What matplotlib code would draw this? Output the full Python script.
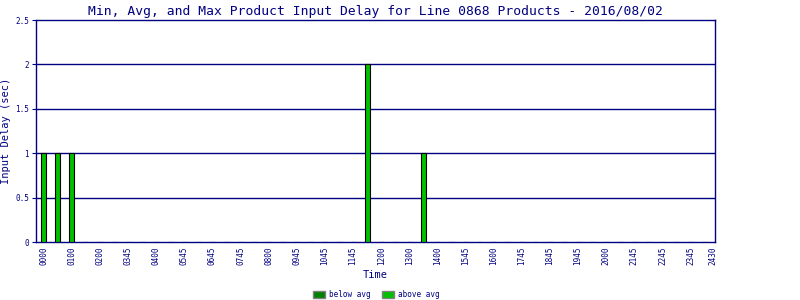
import matplotlib
matplotlib.use("Agg")
import matplotlib.pyplot as plt
from matplotlib.patches import Patch

# half-hour slots, only some carry a label
slots = list(range(48))
delay = [0.0] * 48
delay[0] = 1
delay[1] = 1
delay[2] = 1
delay[23] = 2
delay[27] = 1

tick_pos = list(range(0, 47, 2)) + [47.6]
tick_labels = ["0000", "0100", "0200", "0345", "0400", "0545", "0645", "0745",
               "0800", "0945", "1045", "1145", "1200", "1300", "1400", "1545",
               "1600", "1745", "1845", "1945", "2000", "2145", "2245", "2345",
               "2430"]

navy = "#000080"
mono = "DejaVu Sans Mono"

fig = plt.figure(figsize=(8, 3), dpi=100)
ax = fig.add_axes([0.045, 0.193, 0.849, 0.74])

for y in [0.5, 1, 1.5, 2]:
    ax.axhline(y, color=navy, lw=1, zorder=1)

ax.bar(slots, delay, width=0.36, color="#00c000", edgecolor="black",
       linewidth=0.8, zorder=3)

ax.set_xlim(-0.55, 47.75)
ax.set_ylim(0, 2.5)
ax.set_yticks([0, 0.5, 1, 1.5, 2, 2.5])
ax.set_yticklabels(["0", "0.5", "1", "1.5", "2", "2.5"], fontsize=5.5,
                   family=mono, color=navy)
ax.set_xticks(tick_pos)
ax.set_xticklabels(tick_labels, rotation=90, fontsize=5.5, family=mono,
                   color=navy)
ax.tick_params(axis="y", length=3, color=navy, pad=2)
ax.tick_params(axis="x", length=0, pad=3)
for s in ax.spines.values():
    s.set_color(navy)
    s.set_linewidth(1)

ax.set_title("Min, Avg, and Max Product Input Delay for Line 0868 Products - 2016/08/02",
             fontsize=9.4, family=mono, color=navy, pad=4)
ax.set_ylabel("Input Delay (sec)", fontsize=7.5, family=mono, color=navy, labelpad=3)
ax.set_xlabel("Time", fontsize=7.5, family=mono, color=navy, labelpad=4)

handles = [Patch(facecolor="#008000", edgecolor="grey", label="below avg"),
           Patch(facecolor="#00c000", edgecolor="grey", label="above avg")]
fig.legend(handles=handles, loc="lower center", bbox_to_anchor=(0.47, -0.02),
           ncol=2, frameon=False, prop={"family": mono, "size": 5.5},
           labelcolor=navy, handlelength=1.6, handleheight=0.9,
           columnspacing=1.5, handletextpad=0.5)

fig.savefig("out.png", dpi=100, facecolor="white")
